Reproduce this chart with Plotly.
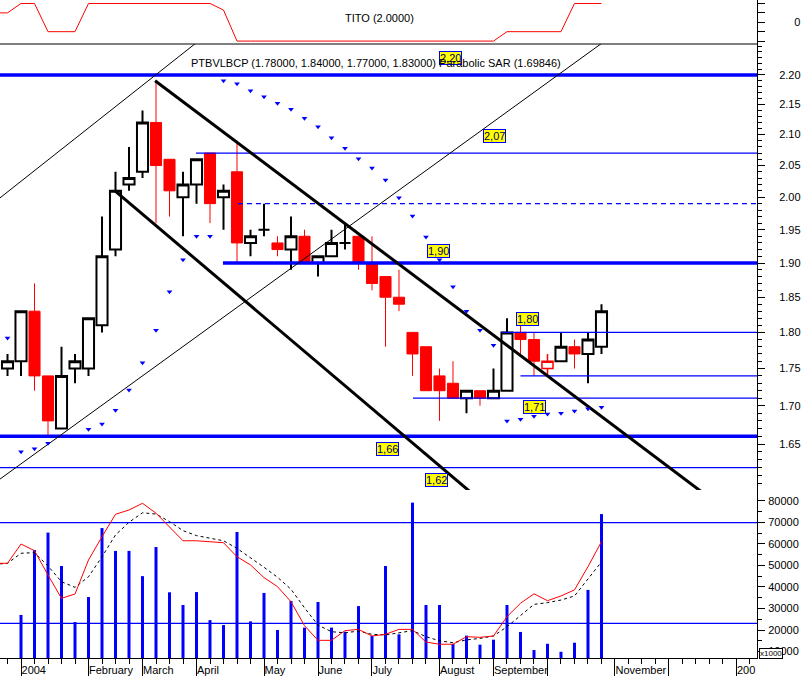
import math
import pandas as pd
import plotly.graph_objects as go

# ---------------- data (weekly, week ending Friday) ----------------
dates = [d.strftime("%Y-%m-%d") for d in pd.date_range("2003-12-19", periods=46, freq="7D")]

open_ = [None, 1.75, 1.76, 1.83, 1.74, 1.67, 1.75, 1.75, 1.81, 1.92, 2.02,
         2.04, 2.12, 2.06, 2.00, 2.02, 2.07, 2.00, 2.04, 1.93, 1.95,
         1.93, 1.92, 1.94, 1.90, 1.91, 1.93, 1.94, 1.90, 1.88, 1.85,
         1.80, 1.78, 1.74, 1.73, 1.71, 1.72, 1.71, 1.72, 1.80, 1.79,
         1.75, 1.76, 1.78, 1.77, 1.78]
high = [None, 1.77, 1.83, 1.87, 1.74, 1.78, 1.77, 1.82, 1.97, 2.04, 2.08,
        2.14, 2.19, 2.06, 2.04, 2.06, 2.07, 2.02, 2.09, 1.95, 1.99,
        1.94, 1.97, 1.95, 1.91, 1.95, 1.96, 1.94, 1.94, 1.88, 1.89,
        1.80, 1.78, 1.75, 1.76, 1.72, 1.72, 1.75, 1.82, 1.81, 1.80,
        1.77, 1.80, 1.79, 1.80, 1.84]
low = [None, 1.74, 1.74, 1.72, 1.66, 1.67, 1.73, 1.74, 1.80, 1.91, 2.01,
       2.03, 1.96, 1.97, 1.94, 1.99, 1.96, 1.95, 1.90, 1.91, 1.94,
       1.91, 1.89, 1.90, 1.88, 1.91, 1.92, 1.89, 1.86, 1.78, 1.83,
       1.74, 1.72, 1.68, 1.71, 1.69, 1.70, 1.71, 1.72, 1.77, 1.74,
       1.74, 1.76, 1.75, 1.73, 1.77]
close = [None, 1.76, 1.83, 1.74, 1.68, 1.74, 1.76, 1.82, 1.91, 2.01, 2.03,
         2.12, 2.05, 2.01, 2.02, 2.06, 1.99, 2.01, 1.93, 1.94, 1.95,
         1.92, 1.94, 1.90, 1.91, 1.93, 1.93, 1.90, 1.87, 1.85, 1.84,
         1.77, 1.72, 1.72, 1.71, 1.72, 1.71, 1.72, 1.80, 1.79, 1.76,
         1.76, 1.78, 1.77, 1.79, 1.83]

sar = [None, 1.792, 1.640, 1.644, 1.651, None, None, 1.669, 1.676, 1.694,
       1.721, 1.758, 1.803, 1.858, 1.905, 1.940, 1.940, 2.190, 2.185, 2.173,
       2.163, 2.152, 2.142, 2.127, 2.113, 2.095, 2.078, 2.061, 2.046, 2.027,
       1.999, 1.971, 1.939, 1.905, 1.865, 1.830, 1.803, 1.782, 1.680, 1.682,
       1.686, 1.689, 1.690, 1.693, 1.696, 1.698]

volume = [None, None, 27000, 57100, 65200, 49700, 23700, 35300, 67300, 56700,
          56700, 45000, 58500, 37500, 31600, 37600, 24600, 22300, 65500, 24000,
          37200, 20000, 33500, 21100, 33000, 21100, 19200, 31100, 17200, 49700,
          18000, 79100, 31600, 31600, 13500, 17400, 13200, 15500, 31600, 19100,
          10700, 13600, 9900, 14100, 38600, 73800]
vol_ma_fast = [50950, 50950, 59900, 56800, 45500, 34700, 36700, 52500, 63300, 73700,
               75700, 78800, 74200, 67900, 61400, 61400, 60800, 60500, 54000, 50200,
               44300, 40100, 33100, 22000, 15200, 15200, 19700, 20300, 17200, 18000,
               20300, 20300, 14400, 13400, 13400, 16900, 16600, 17200, 26200, 32400,
               36800, 33600, 35800, 38600, 49400, 61000]
vol_ma_slow = [50500, 50950, 55600, 55900, 49700, 42400, 39800, 44700, 54000, 64100,
               70000, 74400, 73800, 70300, 66100, 63800, 62600, 61400, 57900, 53700,
               49100, 44500, 38900, 30300, 22300, 19200, 18700, 19500, 18000, 17700,
               18700, 19700, 16900, 15000, 14100, 15400, 16100, 17200, 21500, 26500,
               31900, 32700, 33900, 35800, 43500, 51600]
vol_levels = [69800, 23100]

tito = [1, 1, 2, 2, -1, -1, -1, 2, 2, 2,
        2, 2, 2, 2, 2, 2, 2, 1.3, -2, -2,
        -2, -2, -2, -2, -2, -2, -2, -2, -2, -2,
        -2, -2, -2, -2, -2, -2, -2, -2, -1, -1,
        -1, -1, -1, 2, 2, 2]

# support / resistance levels (price, first week drawn)
level_price = [2.20, 2.07, 1.99, 1.90, 1.80, 1.74, 1.71, 1.66, 1.62]
level_start = [-3, 12.96, 16.07, 14.96, 35.6, 37.0, 29.04, -3, -3]
level_kind = ["thick", "thin", "dash", "thick", "thin", "thin", "thin", "thick", "thin"]

label_text = ["2,20", "2,07", "1,90", "1,80", "1,71", "1,66", "1,62"]
label_price = [2.20, 2.07, 1.90, 1.80, 1.71, 1.66, 1.62]
label_week = [31.85, 35.11, 30.93, 37.52, 38.04, 27.15, 30.78]
label_shift = [17, 17, 12, 13, -9, -13, -12]

# trend lines: ((week, price), (week, price))
trend_thick = [((9.93, 2.19), (51.0, 1.5823)), ((6.96, 2.01), (34.0, 1.5794))]
trend_thin = [((-2.0, 1.9916), (14.0, 2.2749)), ((-2.0, 1.6001), (44.0, 2.2719))]

month_ticks = ["2004-01-02", "2004-02-06", "2004-03-05", "2004-04-02", "2004-05-07",
               "2004-06-04", "2004-07-02", "2004-08-06", "2004-09-03", "2004-10-01",
               "2004-11-05", "2004-12-03", "2005-01-07"]
month_text = ["2004", "February", "March", "April", "May", "June", "July", "August",
              "September", "", "November", "", "200"]

# ---------------- helpers ----------------
BASE = pd.Timestamp("2004-01-02")


def wk(w):
    return (BASE + pd.Timedelta(days=7 * w)).strftime("%Y-%m-%d %H:%M:%S")


BLUE = "#0000FF"
RED = "#FF0000"
FONT = "Arial, Liberation Sans, sans-serif"
H_PLOT = 658.0
W_PLOT = 757.0
d_vol = [0, 1 - 490 / H_PLOT]
d_price = [1 - 490 / H_PLOT, 1 - 44 / H_PLOT]
d_tito = [1 - 44 / H_PLOT, 1]
xrange_ = [wk(-1.556), wk(54.52)]

fig = go.Figure()

# ---- volume panel ----
bar_w = 3 / 13.5 * 7 * 86400000
fig.add_trace(go.Bar(x=dates, y=volume, marker=dict(color=BLUE, line=dict(width=0)),
                     width=bar_w, xaxis="x", yaxis="y", hoverinfo="skip"))
for v in vol_levels:
    fig.add_trace(go.Scatter(x=[wk(-3), wk(60)], y=[v, v], mode="lines",
                             line=dict(color=BLUE, width=1.3), xaxis="x", yaxis="y",
                             hoverinfo="skip"))
fig.add_trace(go.Scatter(x=dates, y=vol_ma_slow, mode="lines",
                         line=dict(color="black", width=1, dash="3px,3px"),
                         xaxis="x", yaxis="y", hoverinfo="skip"))
fig.add_trace(go.Scatter(x=dates, y=vol_ma_fast, mode="lines",
                         line=dict(color=RED, width=1), xaxis="x", yaxis="y",
                         hoverinfo="skip"))

# ---- TITO panel ----
fig.add_trace(go.Scatter(x=dates, y=tito, mode="lines", line=dict(color=RED, width=1),
                         xaxis="x", yaxis="y3", hoverinfo="skip"))

# ---- candles ----
groups = {"black": [], "redfill": [], "redhollow": []}
prev_c = None
for i in range(len(dates)):
    o, c = open_[i], close[i]
    if o is None:
        continue
    if c == o:
        groups["black"].append(i)
    elif c < o:
        groups["redfill"].append(i)
    elif prev_c is not None and c <= prev_c:
        groups["redhollow"].append(i)
    else:
        groups["black"].append(i)
    prev_c = c

styles = {
    "black": dict(line=dict(color="black", width=2), fillcolor="white"),
    "redfill": dict(line=dict(color=RED, width=1), fillcolor=RED),
    "redhollow": dict(line=dict(color=RED, width=1.5), fillcolor="white"),
}
for key, idx in groups.items():
    fig.add_trace(go.Candlestick(
        x=[dates[i] for i in idx], open=[open_[i] for i in idx],
        high=[high[i] for i in idx], low=[low[i] for i in idx],
        close=[close[i] for i in idx],
        increasing=styles[key], decreasing=styles[key], whiskerwidth=0,
        xaxis="x", yaxis="y2", hoverinfo="skip", showlegend=False))

# ---- horizontal levels ----
for p, s, k in zip(level_price, level_start, level_kind):
    if k == "thick":
        ln = dict(color=BLUE, width=3.5)
    elif k == "dash":
        ln = dict(color=BLUE, width=1.2, dash="5px,4px")
    else:
        ln = dict(color=BLUE, width=1.3)
    fig.add_trace(go.Scatter(x=[wk(s), wk(60)], y=[p, p], mode="lines", line=ln,
                             xaxis="x", yaxis="y2", hoverinfo="skip"))

# ---- trend lines ----
for (a, b) in trend_thick:
    fig.add_trace(go.Scatter(x=[wk(a[0]), wk(b[0])], y=[a[1], b[1]], mode="lines",
                             line=dict(color="black", width=3), xaxis="x", yaxis="y2",
                             hoverinfo="skip"))
for (a, b) in trend_thin:
    fig.add_trace(go.Scatter(x=[wk(a[0]), wk(b[0])], y=[a[1], b[1]], mode="lines",
                             line=dict(color="black", width=1), xaxis="x", yaxis="y2",
                             hoverinfo="skip"))

# ---- parabolic SAR ----
fig.add_trace(go.Scatter(x=dates, y=sar, mode="markers",
                         marker=dict(symbol="triangle-down", size=5, color=BLUE,
                                     line=dict(width=0)),
                         xaxis="x", yaxis="y2", hoverinfo="skip"))

# dummy trace for the long month ticks axis
fig.add_trace(go.Scatter(x=month_ticks, y=[None] * len(month_ticks), mode="lines",
                         xaxis="x2", yaxis="y", hoverinfo="skip"))

# ---------------- annotations ----------------
ann = []
for t, p, w, sh in zip(label_text, label_price, label_week, label_shift):
    ann.append(dict(x=wk(w), y=math.log10(p), xref="x", yref="y2", text=t,
                    showarrow=False, yshift=sh, bgcolor="#FFFF00", bordercolor=BLUE,
                    borderwidth=1, borderpad=0,
                    font=dict(family=FONT, size=11, color="#000060")))
ann.append(dict(x=379 / W_PLOT, y=1 - 10 / H_PLOT, xref="paper", yref="paper",
                text="TITO (2.0000)", showarrow=False, xanchor="center",
                font=dict(family=FONT, size=11, color="black")))
ann.append(dict(x=189 / W_PLOT, y=1 - 55 / H_PLOT, xref="paper", yref="paper",
                text="PTBVLBCP (1.78000, 1.84000, 1.77000, 1.83000) Parabolic SAR (1.69846)",
                showarrow=False, xanchor="left",
                font=dict(family=FONT, size=11, color="black")))
ann.append(dict(x=771 / W_PLOT, y=(H_PLOT - 653) / H_PLOT, xref="paper", yref="paper",
                text="x1000", showarrow=False, xanchor="center", yanchor="middle",
                bgcolor="white", bordercolor="black", borderwidth=1, borderpad=0,
                font=dict(family=FONT, size=8, color="black")))
fig.update_layout(annotations=ann)

# panel separator
fig.add_shape(type="line", xref="paper", yref="paper", x0=0, x1=1,
              y0=d_tito[0], y1=d_tito[0], line=dict(color="black", width=1))

price_major = [1.65, 1.70, 1.75, 1.80, 1.85, 1.90, 1.95, 2.00, 2.05, 2.10, 2.15, 2.20]
price_minor = [round(1.59 + 0.01 * k, 2) for k in range(68)]
vol_major = [10000, 20000, 30000, 40000, 50000, 60000, 70000, 80000]
vol_minor = [5000 * k for k in range(1, 18)]

axis_common = dict(showgrid=False, zeroline=False, showline=True, linecolor="black",
                   linewidth=1, side="right", anchor="x", ticks="outside",
                   tickcolor="black", ticklen=7, tickwidth=1,
                   tickfont=dict(family=FONT, size=11, color="black"))

fig.update_layout(
    width=804, height=676,
    margin=dict(l=0, r=47, t=0, b=18, pad=0),
    paper_bgcolor="white", plot_bgcolor="white",
    showlegend=False, boxgap=0.18, boxgroupgap=0,
    font=dict(family=FONT, size=11, color="black"),
    xaxis=dict(domain=[0, 1], anchor="y", type="date", range=xrange_,
               showgrid=False, zeroline=False, showline=True, linecolor="black",
               linewidth=1, ticks="", tickvals=month_ticks, ticktext=month_text,
               ticklabelposition="outside right", ticklabelstandoff=2,
               tickfont=dict(family=FONT, size=11, color="black"),
               rangeslider=dict(visible=False),
               minor=dict(ticks="outside", ticklen=5, tickcolor="black",
                          tickvals=[wk(w) for w in range(-2, 56)], showgrid=False)),
    xaxis2=dict(overlaying="x", anchor="y", side="bottom", type="date", range=xrange_,
                showgrid=False, zeroline=False, showline=False, ticks="outside",
                ticklen=18, tickcolor="black", tickvals=month_ticks,
                showticklabels=False, rangeslider=dict(visible=False)),
    yaxis=dict(domain=d_vol, range=[7007, 84965], tickvals=vol_major,
               ticktext=[str(v) for v in vol_major], ticklabelstandoff=1,
               minor=dict(ticks="outside", ticklen=4, tickcolor="black",
                          tickvals=vol_minor),
               **axis_common),
    yaxis2=dict(domain=d_price, type="log",
                range=[math.log10(1.5919), math.log10(2.2537)],
                tickvals=price_major, ticktext=["%.2f" % v for v in price_major],
                ticklabelstandoff=12,
                minor=dict(ticks="outside", ticklen=4, tickcolor="black",
                           tickvals=price_minor),
                **axis_common),
    yaxis3=dict(domain=d_tito, range=[-2.31, 2.37], tickvals=[-2, -1, 0, 1, 2],
                ticktext=["", "", "0", "", ""], ticklabelstandoff=27,
                **axis_common),
)

fig.write_html("out.html", config={"displayModeBar": False},
               post_script="document.body.style.margin='0';")
